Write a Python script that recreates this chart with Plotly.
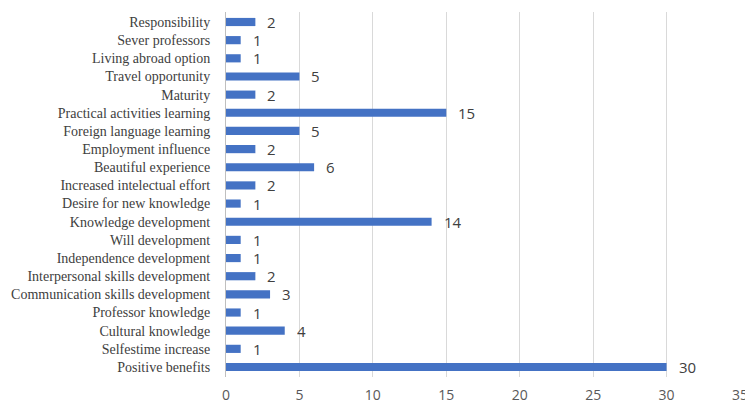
import plotly.graph_objects as go

# Perceived benefits of the study mobility (number of mentions)
categories = [
    "Positive benefits",
    "Selfestime increase",
    "Cultural knowledge",
    "Professor knowledge",
    "Communication skills development",
    "Interpersonal skills development",
    "Independence development",
    "Will development",
    "Knowledge development",
    "Desire for new knowledge",
    "Increased intelectual effort",
    "Beautiful experience",
    "Employment influence",
    "Foreign language learning",
    "Practical activities learning",
    "Maturity",
    "Travel opportunity",
    "Living abroad option",
    "Sever professors",
    "Responsibility",
]
counts = [30, 1, 4, 1, 3, 2, 1, 1, 14, 1, 2, 6, 2, 5, 15, 2, 5, 1, 1, 2]
x_ticks = [0, 5, 10, 15, 20, 25, 30, 35]

fig = go.Figure(
    go.Bar(
        x=counts,
        y=categories,
        orientation="h",
        width=0.45,
        marker=dict(color="#4472C4", line=dict(width=0)),
        hoverinfo="x+y",
    )
)

# Value labels placed just past the end of each bar
for cat, val in zip(categories, counts):
    fig.add_annotation(
        x=val,
        y=cat,
        text=str(val),
        showarrow=False,
        xanchor="left",
        yanchor="middle",
        xshift=10,
        height=16,
        font=dict(family="Open Sans, Liberation Sans, sans-serif", size=15, color="#404040"),
    )

fig.update_layout(
    width=745,
    height=409,
    margin=dict(l=226, r=5, t=12, b=32),
    paper_bgcolor="white",
    plot_bgcolor="white",
    showlegend=False,
    bargap=0.55,
)

fig.update_xaxes(
    range=[0, 35],
    tickvals=x_ticks,
    ticktext=[str(v) for v in x_ticks],
    showgrid=True,
    gridcolor="#d9d9d9",
    gridwidth=1,
    zeroline=False,
    showline=False,
    ticks="",
    automargin=False,
    ticklabelstandoff=8,
    ticklabeloverflow="allow",
    tickfont=dict(family="Open Sans, Liberation Sans, sans-serif", size=14, color="#595959"),
)

fig.update_yaxes(
    categoryorder="array",
    categoryarray=categories,
    showgrid=False,
    zeroline=False,
    showline=True,
    linecolor="#bfbfbf",
    linewidth=1,
    ticks="",
    automargin=False,
    ticklabelstandoff=12,
    tickfont=dict(family="Liberation Serif, Times New Roman, serif", size=14, color="#404040"),
)

fig.write_html("out.html")
